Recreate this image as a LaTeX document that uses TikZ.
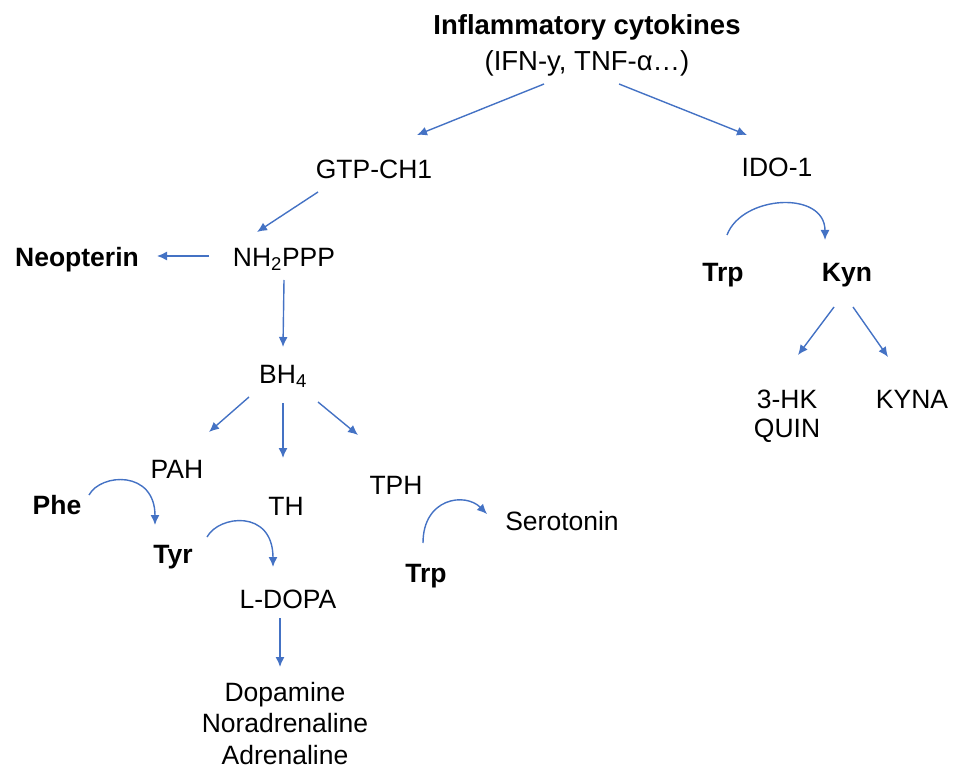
\documentclass[tikz,border=0pt]{standalone}
\usepackage{fontspec}
\setmainfont{Liberation Sans}
\usetikzlibrary{arrows.meta}

\definecolor{arrblue}{RGB}{68,114,196}

\tikzset{
    arr/.style={draw=arrblue, line width=1.4pt, -{Latex[length=10pt,width=9pt]}},
    lbl/.style={inner sep=0pt, anchor=base, font=\fontsize{26.5}{32}\selectfont},
    multi/.style={inner sep=0pt, anchor=north, align=center, font=\fontsize{26.5}{#1}\selectfont},
}

\begin{document}
\begin{tikzpicture}[x=1pt, y=-1pt]
        \useasboundingbox (0,0) rectangle (957,783);
        \node [multi=36.5, font=\fontsize{27.5}{36.5}\selectfont] (cyto) at (587,14) {\textbf{Inflammatory cytokines}\\(IFN-y, TNF-α…)};
        \node [lbl] (gtp) at (374,179) {GTP-CH1};
        \node [lbl] (ido) at (777,177) {IDO-1};
        \node [lbl] (nh) at (284,266) {NH\textsubscript{2}PPP};
        \node [lbl] (neo) at (77,266) {\textbf{Neopterin}};
        \node [lbl] (bh) at (283,383) {BH\textsubscript{4}};
        \node [lbl] (pah) at (177,478) {PAH};
        \node [lbl] (th) at (286,515) {TH};
        \node [lbl] (tph) at (396,494) {TPH};
        \node [lbl] (phe) at (57,514) {\textbf{Phe}};
        \node [lbl] (tyr) at (173,563) {\textbf{Tyr}};
        \node [lbl] (ldopa) at (288,608) {L-DOPA};
        \node [lbl] (trp) at (426,582) {\textbf{Trp}};
        \node [lbl] (sero) at (562,530) {Serotonin};
        \node [multi=31.5] (cat) at (285,682) {Dopamine\\Noradrenaline\\Adrenaline};
        \node [lbl] (trpk) at (723,282) {\textbf{Trp}};
        \node [lbl] (kyn) at (847,282) {\textbf{Kyn}};
        \node [multi=28.5] (hk) at (787,390) {3-HK\\QUIN};
        \node [lbl] (kyna) at (912,408) {KYNA};

        \draw [arr] ([shift={(-43,70)}]cyto.north) -- ([shift={(43,-44)}]gtp.base);
        \draw [arr] ([shift={(32,70)}]cyto.north) -- ([shift={(-30,-42)}]ido.base);
        \draw [arr] ([shift={(-56,13)}]gtp.base) -- ([shift={(-27,-34)}]nh.base);
        \draw [arr] ([shift={(-75,-10)}]nh.base) -- ([shift={(80,-10)}]neo.base);
        \draw [arr] ([shift={(0,14)}]nh.base) -- ([shift={(0,-36)}]bh.base);
        \draw [arr] ([shift={(-34,14)}]bh.base) -- ([shift={(32,-46)}]pah.base);
        \draw [arr] ([shift={(0,20)}]bh.base) -- ([shift={(-3,-57)}]th.base);
        \draw [arr] ([shift={(35,19)}]bh.base) -- ([shift={(-38,-59)}]tph.base);
        \draw [arr] ([shift={(32,-19)}]phe.base) .. controls +(12,-22) and +(0,-55) .. ([shift={(-18,-38)}]tyr.base);
        \draw [arr] ([shift={(34,-26)}]tyr.base) .. controls +(12,-22) and +(0,-58) .. ([shift={(-15,-41)}]ldopa.base);
        \draw [arr] ([shift={(-3,-39)}]trp.base) .. controls +(0,-45) and +(-22,-22) .. ([shift={(-75,-16)}]sero.base);
        \draw [arr] ([shift={(-8,10)}]ldopa.base) -- ([shift={(-5,-15)}]cat.north);
        \draw [arr] ([shift={(4,-47)}]trpk.base) .. controls +(15,-40) and +(0,-50) .. ([shift={(-22,-42)}]kyn.base);
        \draw [arr] ([shift={(-13,25)}]kyn.base) -- ([shift={(11,-35)}]hk.north);
        \draw [arr] ([shift={(6,25)}]kyn.base) -- ([shift={(-24,-51)}]kyna.base);
    \end{tikzpicture}
\end{document}
